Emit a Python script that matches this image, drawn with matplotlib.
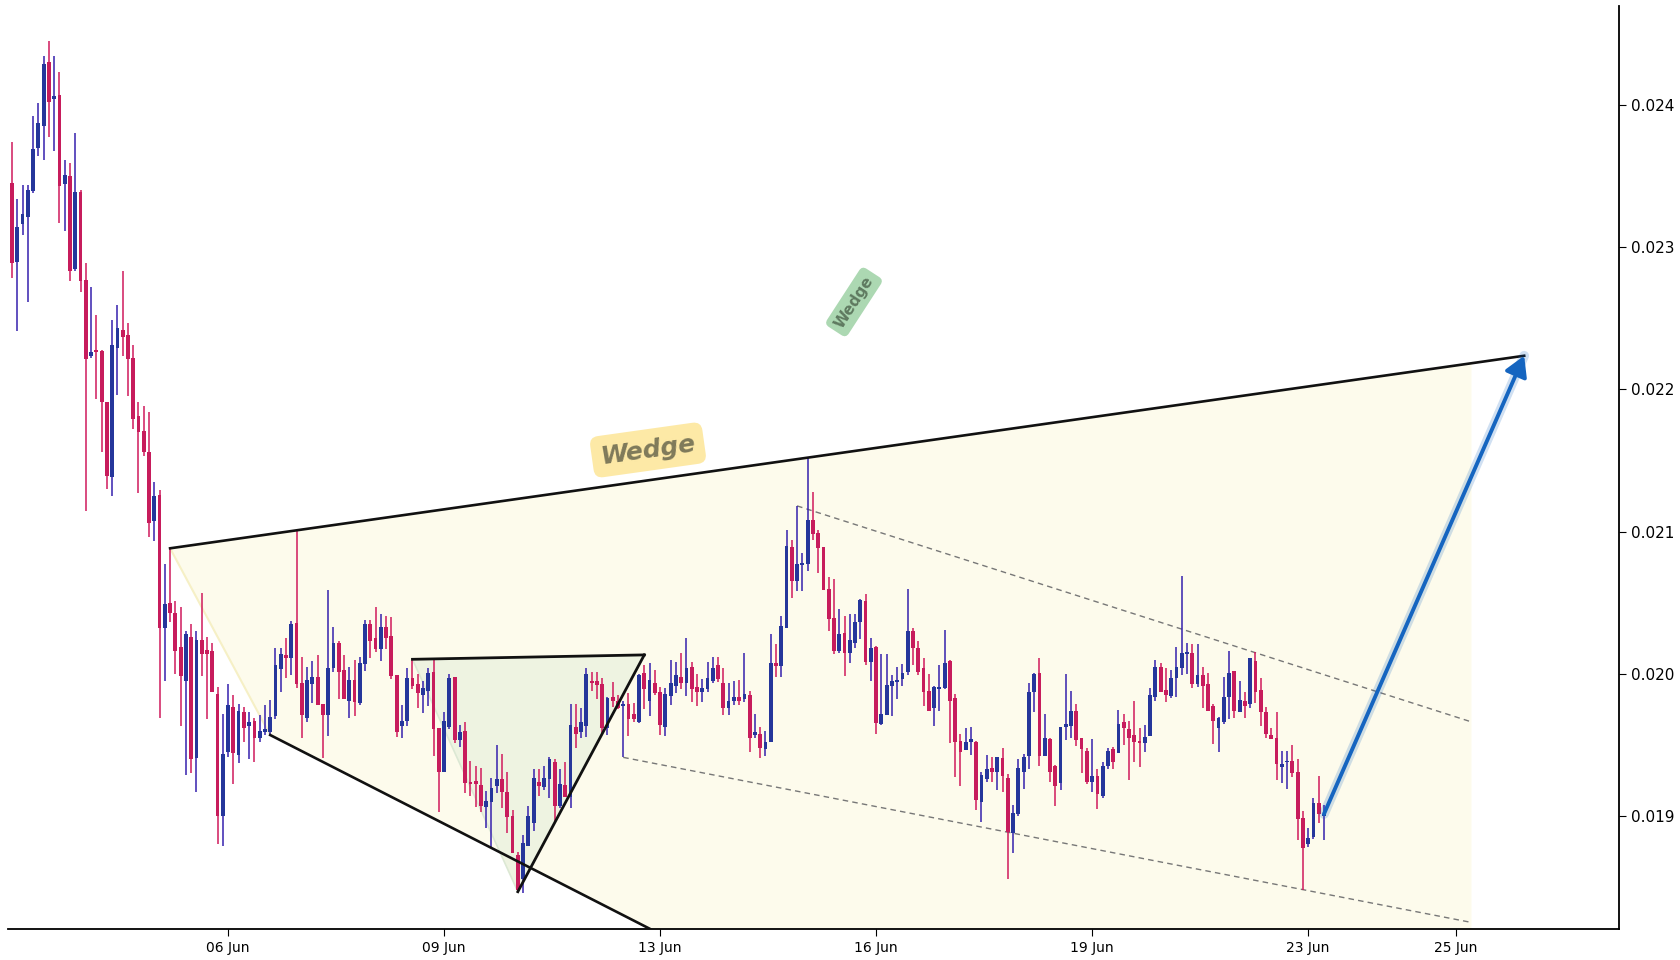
import matplotlib
matplotlib.use("Agg")
import matplotlib.pyplot as plt
from matplotlib.patches import Polygon
import numpy as np

# OHLC, one entry per candle (index = bar number)
opens = [
    0.023448, 0.022898, 0.023160, 0.023214, 0.023394, 0.023694, 0.023853, 0.024301, 0.024038, 0.024067,
    0.023446, 0.023500, 0.022848, 0.023385, 0.022769, 0.022237, 0.022277, 0.022270, 0.021909, 0.021387,
    0.022293, 0.022417, 0.022382, 0.022221, 0.021813, 0.021708, 0.021560, 0.021078, 0.021258, 0.020321,
    0.020497, 0.020426, 0.020187, 0.019953, 0.020260, 0.019412, 0.020237, 0.020166, 0.020159, 0.019859,
    0.019004, 0.019454, 0.019766, 0.019433, 0.019733, 0.019635, 0.019670, 0.019553, 0.019595, 0.019595,
    0.019707, 0.020037, 0.020134, 0.020110, 0.020356, 0.019934, 0.019693, 0.019932, 0.019979, 0.019789,
    0.019714, 0.020040, 0.020216, 0.020028, 0.019813, 0.019958, 0.019799, 0.020073, 0.020351, 0.020253,
    0.020178, 0.020330, 0.020267, 0.019993, 0.019637, 0.019672, 0.019970, 0.019927, 0.019852, 0.019883,
    0.020016, 0.019618, 0.019309, 0.019625, 0.019977, 0.019536, 0.019597, 0.019241, 0.019248, 0.019220,
    0.019068, 0.019103, 0.019215, 0.019262, 0.019168, 0.019002, 0.018728, 0.018557, 0.018794, 0.018955,
    0.019239, 0.019208, 0.019260, 0.019382, 0.019075, 0.019220, 0.019138, 0.019625, 0.019590, 0.019637,
    0.019953, 0.019948, 0.019927, 0.019618, 0.019836, 0.019810, 0.019777, 0.019787, 0.019719, 0.019660,
    0.020005, 0.019813, 0.019934, 0.019871, 0.019625, 0.019848, 0.019918, 0.019977, 0.019934, 0.020047,
    0.019906, 0.019871, 0.019895, 0.019953, 0.020061, 0.019934, 0.019763, 0.019808, 0.019838, 0.019827,
    0.019850, 0.019574, 0.019576, 0.019471, 0.019524, 0.020075, 0.020056, 0.020326, 0.020895, 0.020656,
    0.020766, 0.020771, 0.021082, 0.020991, 0.020890, 0.020597, 0.020391, 0.020164, 0.020286, 0.020145,
    0.020216, 0.020368, 0.020511, 0.020087, 0.020190, 0.019646, 0.019712, 0.019916, 0.019946, 0.019965,
    0.020016, 0.020302, 0.020180, 0.020040, 0.019881, 0.019763, 0.019897, 0.019904, 0.020091, 0.019829,
    0.019529, 0.019466, 0.019524, 0.019524, 0.019103, 0.019262, 0.019337, 0.019314, 0.019410, 0.019267,
    0.018885, 0.019016, 0.019314, 0.019426, 0.019871, 0.020005, 0.019426, 0.019543, 0.019353, 0.019236,
    0.019625, 0.019637, 0.019740, 0.019548, 0.019459, 0.019243, 0.019283, 0.019145, 0.019356, 0.019473,
    0.019447, 0.019660, 0.019613, 0.019571, 0.019529, 0.019517, 0.019567, 0.019836, 0.020047, 0.019888,
    0.019848, 0.019970, 0.020045, 0.020143, 0.020145, 0.019932, 0.019991, 0.019927, 0.019777, 0.019623,
    0.019665, 0.019836, 0.020021, 0.019735, 0.019810, 0.019787, 0.020091, 0.019888, 0.019731, 0.019571,
    0.019548, 0.019349, 0.019379, 0.019389, 0.019311, 0.018986, 0.018805, 0.018857, 0.019091, 0.019004,
]
highs = [
    0.023736, 0.023338, 0.023434, 0.023434, 0.023921, 0.024013, 0.024343, 0.024448, 0.024343, 0.024231,
    0.023612, 0.023589, 0.023802, 0.023401, 0.022888, 0.022720, 0.022523, 0.022277, 0.021909, 0.022488,
    0.022593, 0.022832, 0.022467, 0.022312, 0.021911, 0.021883, 0.021841, 0.021347, 0.021293, 0.020771,
    0.020883, 0.020513, 0.020471, 0.020302, 0.020349, 0.020302, 0.020567, 0.020258, 0.020216, 0.019906,
    0.019719, 0.019930, 0.019852, 0.019789, 0.019766, 0.019733, 0.019693, 0.019710, 0.019780, 0.019817,
    0.020185, 0.020185, 0.020253, 0.020375, 0.021012, 0.020119, 0.020049, 0.020091, 0.020134, 0.019789,
    0.020590, 0.020333, 0.020230, 0.020134, 0.020049, 0.020098, 0.020119, 0.020379, 0.020379, 0.020473,
    0.020422, 0.020408, 0.020403, 0.019993, 0.019782, 0.020045, 0.020098, 0.019998, 0.019951, 0.020045,
    0.020110, 0.019618, 0.019731, 0.020000, 0.019977, 0.019642, 0.019660, 0.019389, 0.019353, 0.019342,
    0.019178, 0.019267, 0.019501, 0.019438, 0.019311, 0.019044, 0.018751, 0.018866, 0.019075, 0.019330,
    0.019330, 0.019353, 0.019419, 0.019405, 0.019330, 0.019382, 0.019789, 0.019787, 0.019763, 0.020045,
    0.020012, 0.020012, 0.019974, 0.019841, 0.019946, 0.019852, 0.019810, 0.019864, 0.019799, 0.020000,
    0.020063, 0.020075, 0.020028, 0.019906, 0.019899, 0.020098, 0.020087, 0.020145, 0.020251, 0.020087,
    0.019998, 0.019965, 0.020087, 0.020117, 0.020117, 0.020045, 0.019934, 0.019951, 0.019958, 0.020145,
    0.019883, 0.019719, 0.019625, 0.019599, 0.020281, 0.020211, 0.020408, 0.021012, 0.020942, 0.021181,
    0.020848, 0.021516, 0.021277, 0.021012, 0.020890, 0.020679, 0.020668, 0.020454, 0.020408, 0.020422,
    0.020422, 0.020527, 0.020562, 0.020255, 0.020199, 0.020141, 0.020141, 0.019993, 0.020047, 0.020070,
    0.020597, 0.020321, 0.020232, 0.020110, 0.019998, 0.019918, 0.020063, 0.020309, 0.020098, 0.019859,
    0.019578, 0.019623, 0.019628, 0.019529, 0.019314, 0.019431, 0.019419, 0.019419, 0.019478, 0.019295,
    0.019079, 0.019403, 0.019435, 0.019939, 0.020009, 0.020110, 0.019719, 0.019548, 0.019358, 0.019630,
    0.020000, 0.019881, 0.019789, 0.019553, 0.019482, 0.019543, 0.019332, 0.019384, 0.019482, 0.019489,
    0.019747, 0.019717, 0.019670, 0.019810, 0.019623, 0.019642, 0.019904, 0.020098, 0.020075, 0.020040,
    0.020028, 0.020187, 0.020689, 0.020216, 0.020208, 0.020208, 0.020047, 0.020005, 0.019787, 0.019700,
    0.019981, 0.020162, 0.020021, 0.019951, 0.019871, 0.020110, 0.020152, 0.019970, 0.019770, 0.019618,
    0.019731, 0.019459, 0.019459, 0.019501, 0.019403, 0.019037, 0.018920, 0.019131, 0.019286, 0.019079,
]
lows = [
    0.022785, 0.022413, 0.023087, 0.022617, 0.023383, 0.023643, 0.023614, 0.023776, 0.023678, 0.023172,
    0.023116, 0.022764, 0.022834, 0.022687, 0.021148, 0.022223, 0.021935, 0.021562, 0.021302, 0.021253,
    0.021963, 0.022237, 0.021956, 0.021724, 0.021274, 0.021534, 0.020965, 0.020937, 0.019693, 0.019951,
    0.020368, 0.020002, 0.019637, 0.019288, 0.019307, 0.019168, 0.019988, 0.019686, 0.019871, 0.018808,
    0.018794, 0.019414, 0.019225, 0.019377, 0.019524, 0.019405, 0.019384, 0.019520, 0.019574, 0.019571,
    0.019686, 0.019876, 0.019974, 0.019993, 0.019904, 0.019553, 0.019663, 0.019799, 0.019784, 0.019412,
    0.019567, 0.020016, 0.019824, 0.019824, 0.019693, 0.019707, 0.019782, 0.020023, 0.020115, 0.020155,
    0.020091, 0.020173, 0.019965, 0.019560, 0.019553, 0.019637, 0.019892, 0.019763, 0.019728, 0.019777,
    0.019426, 0.019033, 0.019309, 0.019613, 0.019517, 0.019489, 0.019161, 0.019145, 0.019068, 0.019028,
    0.018915, 0.018782, 0.019161, 0.019056, 0.018880, 0.018740, 0.018470, 0.018459, 0.018791, 0.018899,
    0.019145, 0.019185, 0.019126, 0.018962, 0.019056, 0.019138, 0.019056, 0.019478, 0.019548, 0.019555,
    0.019883, 0.019824, 0.019576, 0.019571, 0.019770, 0.019752, 0.019414, 0.019567, 0.019660, 0.019653,
    0.019752, 0.019705, 0.019852, 0.019571, 0.019567, 0.019782, 0.019869, 0.019895, 0.019845, 0.019806,
    0.019777, 0.019806, 0.019876, 0.019934, 0.019946, 0.019712, 0.019712, 0.019782, 0.019782, 0.019806,
    0.019454, 0.019548, 0.019412, 0.019426, 0.019524, 0.019977, 0.019977, 0.020326, 0.020536, 0.020586,
    0.020586, 0.020726, 0.020942, 0.020712, 0.020590, 0.020305, 0.020141, 0.020145, 0.019986, 0.020075,
    0.020180, 0.020246, 0.020063, 0.019953, 0.019576, 0.019642, 0.019712, 0.019707, 0.019824, 0.019916,
    0.019993, 0.020063, 0.019993, 0.019777, 0.019742, 0.019637, 0.019742, 0.019895, 0.019517, 0.019279,
    0.019215, 0.019466, 0.019431, 0.019044, 0.018962, 0.019243, 0.019239, 0.019185, 0.019173, 0.018557,
    0.018740, 0.019004, 0.019192, 0.019332, 0.019735, 0.019356, 0.019426, 0.019243, 0.019075, 0.019185,
    0.019536, 0.019548, 0.019496, 0.019307, 0.019225, 0.019173, 0.019051, 0.019131, 0.019330, 0.019332,
    0.019447, 0.019501, 0.019255, 0.019384, 0.019349, 0.019454, 0.019567, 0.019813, 0.019871, 0.019806,
    0.019829, 0.019836, 0.019993, 0.019998, 0.019899, 0.019906, 0.019763, 0.019742, 0.019506, 0.019450,
    0.019649, 0.019684, 0.019693, 0.019731, 0.019688, 0.019763, 0.019799, 0.019637, 0.019553, 0.019543,
    0.019255, 0.019236, 0.019192, 0.019279, 0.018833, 0.018482, 0.018787, 0.018838, 0.018951, 0.018833,
]
closes = [
    0.022886, 0.023144, 0.023230, 0.023399, 0.023687, 0.023870, 0.024287, 0.024022, 0.024062, 0.023432,
    0.023504, 0.022834, 0.023385, 0.022764, 0.022216, 0.022263, 0.022263, 0.021909, 0.021394, 0.022312,
    0.022429, 0.022366, 0.022216, 0.021794, 0.021703, 0.021562, 0.021063, 0.021251, 0.020326, 0.020490,
    0.020426, 0.020164, 0.019988, 0.020279, 0.019405, 0.020237, 0.020143, 0.020143, 0.019871, 0.019004,
    0.019438, 0.019780, 0.019447, 0.019740, 0.019623, 0.019663, 0.019553, 0.019599, 0.019616, 0.019695,
    0.020063, 0.020141, 0.020115, 0.020351, 0.019932, 0.019714, 0.019958, 0.019979, 0.019784, 0.019714,
    0.020040, 0.020216, 0.020016, 0.019824, 0.019958, 0.019801, 0.020077, 0.020351, 0.020234, 0.020178,
    0.020330, 0.020255, 0.019988, 0.019595, 0.019667, 0.019970, 0.019916, 0.019869, 0.019899, 0.020005,
    0.019613, 0.019314, 0.019667, 0.019970, 0.019536, 0.019590, 0.019236, 0.019225, 0.019225, 0.019075,
    0.019108, 0.019197, 0.019262, 0.019168, 0.018997, 0.018744, 0.018482, 0.018810, 0.019002, 0.019267,
    0.019215, 0.019267, 0.019400, 0.019075, 0.019225, 0.019138, 0.019642, 0.019576, 0.019660, 0.020000,
    0.019934, 0.019923, 0.019618, 0.019834, 0.019808, 0.019763, 0.019789, 0.019684, 0.019684, 0.019993,
    0.019892, 0.019958, 0.019869, 0.019642, 0.019859, 0.019934, 0.019993, 0.019934, 0.020040, 0.019897,
    0.019876, 0.019899, 0.019970, 0.020045, 0.019965, 0.019763, 0.019808, 0.019838, 0.019810, 0.019857,
    0.019553, 0.019590, 0.019482, 0.019520, 0.020075, 0.020056, 0.020337, 0.020900, 0.020656, 0.020773,
    0.020773, 0.021082, 0.020984, 0.020888, 0.020590, 0.020389, 0.020164, 0.020281, 0.020145, 0.020239,
    0.020368, 0.020520, 0.020087, 0.020185, 0.019658, 0.019719, 0.019923, 0.019951, 0.019958, 0.020005,
    0.020302, 0.020185, 0.020016, 0.019876, 0.019742, 0.019906, 0.019902, 0.020075, 0.019813, 0.019524,
    0.019454, 0.019520, 0.019543, 0.019115, 0.019290, 0.019332, 0.019314, 0.019417, 0.019286, 0.018887,
    0.019021, 0.019337, 0.019417, 0.019871, 0.020000, 0.019426, 0.019548, 0.019314, 0.019215, 0.019625,
    0.019646, 0.019740, 0.019536, 0.019473, 0.019243, 0.019283, 0.019157, 0.019353, 0.019459, 0.019384,
    0.019649, 0.019618, 0.019553, 0.019524, 0.019517, 0.019555, 0.019852, 0.020047, 0.019876, 0.019852,
    0.019970, 0.020047, 0.020145, 0.020155, 0.019932, 0.019991, 0.019918, 0.019742, 0.019672, 0.019688,
    0.019836, 0.020005, 0.019742, 0.019817, 0.019777, 0.020110, 0.019876, 0.019731, 0.019576, 0.019543,
    0.019365, 0.019368, 0.019389, 0.019307, 0.018981, 0.018775, 0.018845, 0.019091, 0.019016, 0.019016,
]

tick_pos = [41, 82, 123, 164, 205, 246, 274]
tick_labels = ["06 Jun", "09 Jun", "13 Jun", "16 Jun", "19 Jun", "23 Jun", "25 Jun"]

# pattern drawings: (bar index, price)
wedge_upper = [(30, 0.020883), (287, 0.022236)]
wedge_lower = [(49, 0.019571), (277, 0.015262)]
wedge_fill_end = 277
tri_a = (76, 0.020103)
tri_b = (120, 0.020134)
tri_c = (96, 0.018470)
chan_upper = [(149, 0.021181), (277, 0.019663)]
chan_lower = [(116, 0.019414), (277, 0.018254)]
target_arrow = [(249, 0.019016), (287, 0.022236)]

UP_BODY, UP_WICK = "#25369b", "#3520ad"
DN_BODY, DN_WICK = "#c71c5c", "#d01a5c"

fig = plt.figure(figsize=(16.8, 9.6), dpi=100)
ax = fig.add_axes([0.0045, 0.0323, 0.9592, 0.9615])

x = np.arange(len(opens))
o = np.array(opens)
h = np.array(highs)
l = np.array(lows)
c = np.array(closes)
up = c >= o


def line_at(p, q, xx):
    return p[1] + (q[1] - p[1]) * (xx - p[0]) / (q[0] - p[0])


# big wedge fill
up_end = line_at(*wedge_upper, wedge_fill_end)
lo_end = line_at(*wedge_lower, wedge_fill_end)
ax.add_patch(Polygon([wedge_upper[0], (wedge_fill_end, up_end), (wedge_fill_end, lo_end), wedge_lower[0]],
                     closed=True, facecolor="#fdfbec", edgecolor="none", zorder=0))
ax.plot([wedge_upper[0][0], wedge_lower[0][0]], [wedge_upper[0][1], wedge_lower[0][1]],
        color="#f6f0c6", lw=1.5, zorder=0.5)

# small triangle
ax.add_patch(Polygon([tri_a, tri_b, tri_c], closed=True, facecolor="#eef3e1", edgecolor="none", zorder=1))
ax.plot([tri_a[0], tri_c[0]], [tri_a[1], tri_c[1]], color="#dce8d4", lw=1.2, zorder=1)

# candles
ax.vlines(x[up], l[up], h[up], color=UP_WICK, lw=1.1, zorder=3)
ax.vlines(x[~up], l[~up], h[~up], color=DN_WICK, lw=1.1, zorder=3)
body_h = np.maximum(np.abs(c - o), 0.000012)
body_b = np.minimum(o, c)
ax.bar(x[up], body_h[up], bottom=body_b[up], width=0.72, color=UP_BODY, zorder=3.5)
ax.bar(x[~up], body_h[~up], bottom=body_b[~up], width=0.72, color=DN_BODY, zorder=3.5)

# wedge and triangle outlines
ax.plot(*zip(*wedge_upper), color="#111111", lw=1.9, zorder=4)
ax.plot(*zip(*wedge_lower), color="#111111", lw=1.9, zorder=4)
ax.plot([tri_a[0], tri_b[0]], [tri_a[1], tri_b[1]], color="#111111", lw=2, zorder=4)
ax.plot([tri_c[0], tri_b[0]], [tri_c[1], tri_b[1]], color="#111111", lw=2, zorder=4)

# channel
for seg in (chan_upper, chan_lower):
    ax.plot(*zip(*seg), color="#777777", lw=1, ls=(0, (4, 3)), zorder=2)

# target arrow with soft glow
ax.plot(*zip(*target_arrow), color="#1565c0", lw=7, alpha=0.2, solid_capstyle="round", zorder=5)
ax.annotate("", xy=target_arrow[1], xytext=target_arrow[0],
            arrowprops=dict(arrowstyle="-|>,head_length=0.6,head_width=0.35", color="#1565c0",
                            lw=2.8, mutation_scale=20, shrinkA=0, shrinkB=0), zorder=6)

# labels
ax.text(120.7, 0.021574, "Wedge", fontsize=18, fontweight="bold", fontstyle="italic", color="#7f7a5a",
        rotation=8, ha="center", va="center", zorder=6,
        bbox=dict(boxstyle="round,pad=0.35", fc="#fde9a6", ec="none"))
ax.text(159.8, 0.022614, "Wedge", fontsize=11, fontweight="bold", color="#5f7a60",
        rotation=57, ha="center", va="center", zorder=6,
        bbox=dict(boxstyle="round,pad=0.35", fc="#acd8b2", ec="none"))

ax.set_xlim(-0.85, 305)
ax.set_ylim(0.018208, 0.024694)
ax.set_xticks(tick_pos)
ax.set_xticklabels(tick_labels, fontsize=10)
ax.set_yticks([0.019, 0.020, 0.021, 0.022, 0.023, 0.024])
ax.yaxis.set_major_formatter(plt.FormatStrFormatter("%.3f"))
ax.yaxis.tick_right()
ax.tick_params(axis="y", labelsize=11, length=5)
ax.tick_params(axis="x", length=5)
for side in ("left", "top"):
    ax.spines[side].set_visible(False)
for side in ("right", "bottom"):
    ax.spines[side].set_linewidth(1.3)

fig.savefig("out.png", dpi=100)
